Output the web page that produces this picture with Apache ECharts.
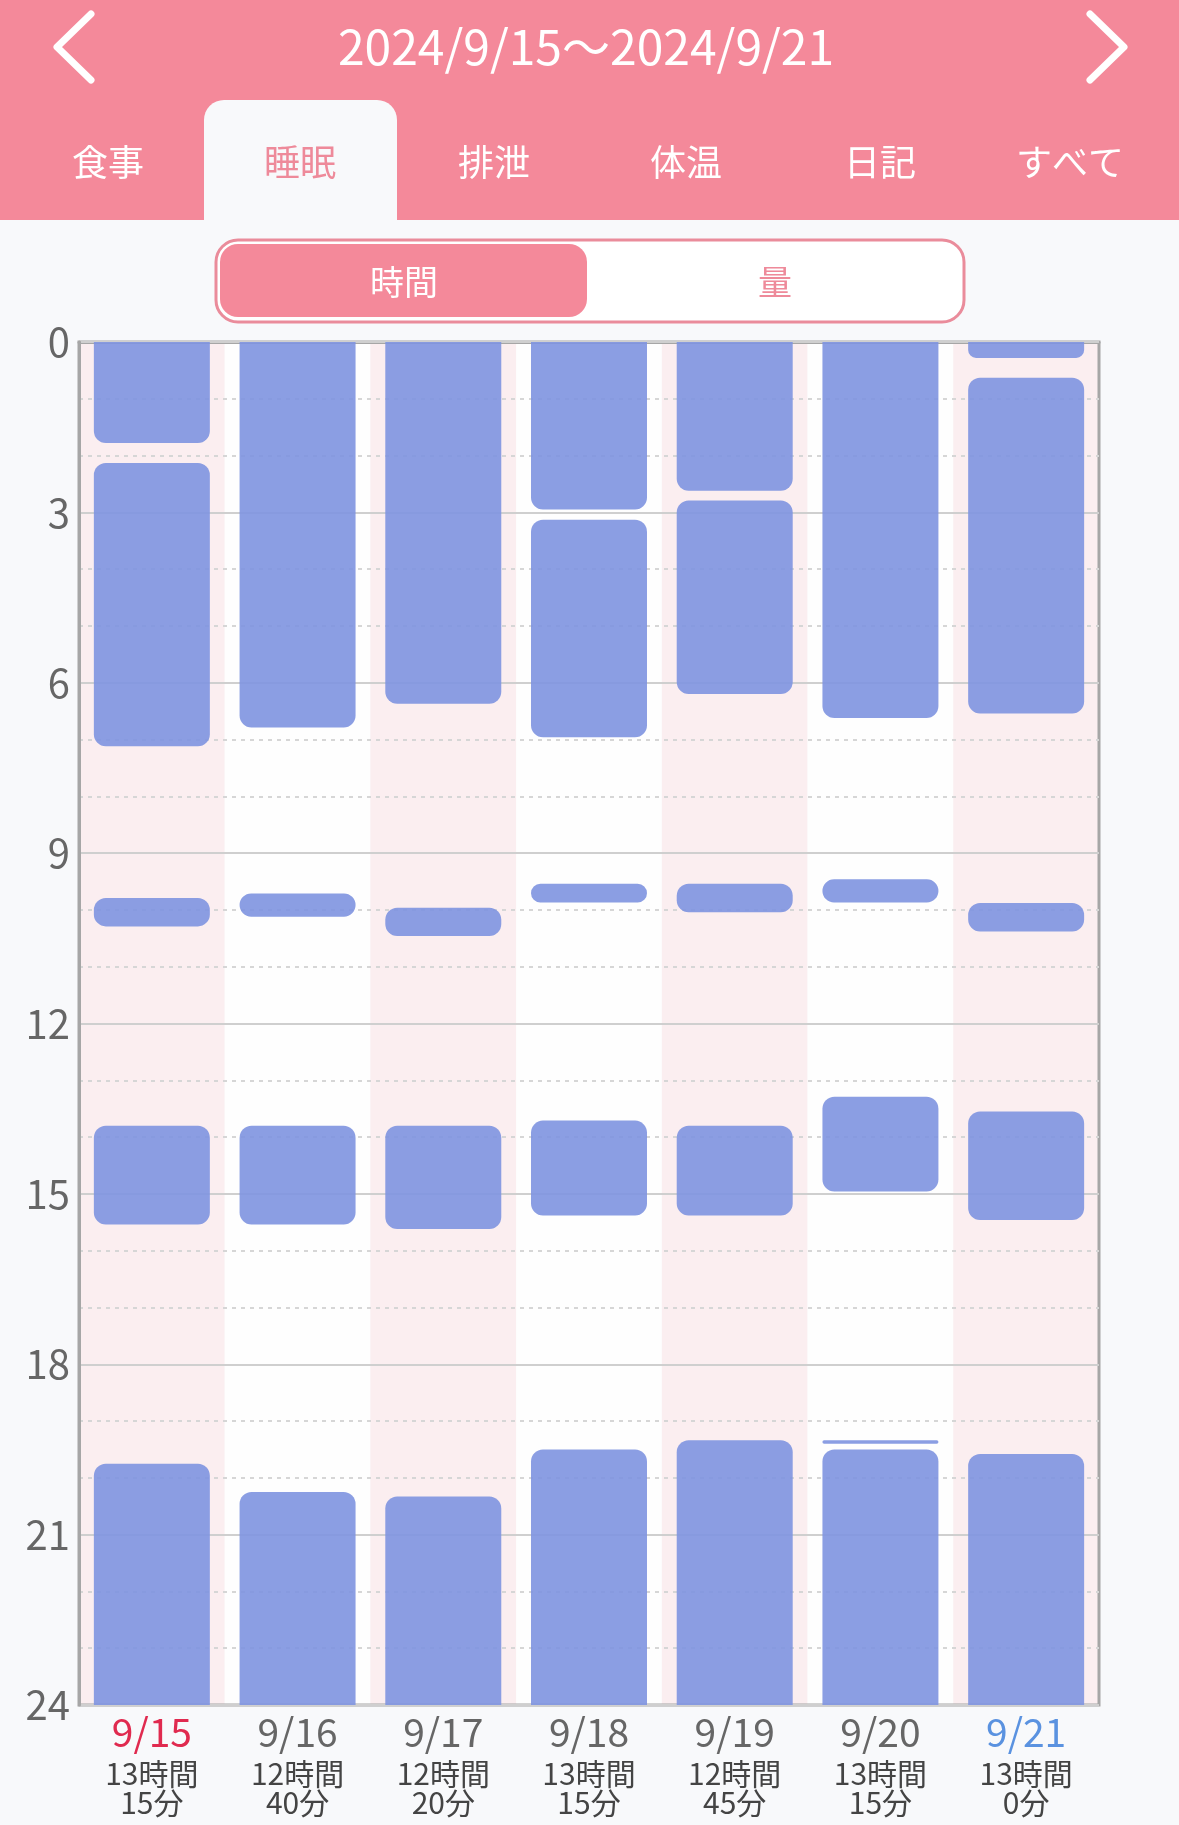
<!DOCTYPE html>
<html>
<head>
<meta charset="utf-8">
<script src="https://cdn.jsdelivr.net/npm/echarts@6.0.0/dist/echarts.min.js"></script>
<style>
html,body{margin:0;padding:0;background:#f8f9fb;}
#chart{width:1179px;height:1825px;}
</style>
</head>
<body>
<div id="chart"></div>
<script>
// ---- data ----
const dates = ['9/15', '9/16', '9/17', '9/18', '9/19', '9/20', '9/21'];
const totalHours = ['13時間', '12時間', '12時間', '13時間', '12時間', '13時間', '13時間'];
const totalMinutes = ['15分', '40分', '20分', '15分', '45分', '15分', '0分'];
const yTicks = [0, 3, 6, 9, 12, 15, 18, 21, 24];
// sleep sessions per day: [start hour, end hour]
const sleep0915 = [[0, 1.78], [2.13, 7.12], [9.79, 10.29], [13.80, 15.54], [19.75, 24]];
const sleep0916 = [[0, 6.79], [9.71, 10.12], [13.80, 15.54], [20.25, 24]];
const sleep0917 = [[0, 6.37], [9.96, 10.46], [13.80, 15.62], [20.33, 24]];
const sleep0918 = [[0, 2.95], [3.13, 6.96], [9.54, 9.87], [13.71, 15.38], [19.50, 24]];
const sleep0919 = [[0, 2.62], [2.79, 6.20], [9.54, 10.04], [13.80, 15.38], [19.34, 24]];
const sleep0920 = [[0, 6.62], [9.46, 9.87], [13.29, 14.96], [19.34, 19.40], [19.50, 24]];
const sleep0921 = [[0, 0.28], [0.63, 6.54], [9.88, 10.38], [13.55, 15.46], [19.58, 24]];
const tabs = ['食事', '睡眠', '排泄', '体温', '日記', 'すべて'];
const titleText = '2024/9/15～2024/9/21';
const toggleLabels = ['時間', '量'];

// ---- build ----
const days = [sleep0915, sleep0916, sleep0917, sleep0918, sleep0919, sleep0920, sleep0921];
const segData = [];
days.forEach((d, i) => d.forEach(s => segData.push([i, s[0], s[1]])));

const FONT = '"Noto Sans CJK JP", "Noto Sans", sans-serif';
const PINK = '#f4899a';
const BG = '#f8f9fb';

const tabCenters = [108, 300, 494, 686, 880, 1070];
const graphics = [
  { type: 'rect', shape: { x: 0, y: 0, width: 1179, height: 220 }, style: { fill: PINK }, silent: true },
  { type: 'rect', shape: { x: 204, y: 100, width: 193, height: 122, r: [20, 20, 0, 0] }, style: { fill: BG }, silent: true },
  { type: 'text', x: 586, y: 47, style: { text: titleText, fill: '#fff', font: '48px ' + FONT, textAlign: 'center', textVerticalAlign: 'middle' } },
  { type: 'polyline', shape: { points: [[91, 14], [57, 47], [91, 80]] }, style: { stroke: '#fff', lineWidth: 7, lineCap: 'round', lineJoin: 'round', fill: null } },
  { type: 'polyline', shape: { points: [[1090, 14], [1124, 47], [1090, 80]] }, style: { stroke: '#fff', lineWidth: 7, lineCap: 'round', lineJoin: 'round', fill: null } },
  { type: 'rect', shape: { x: 216, y: 240, width: 748, height: 82, r: 22 }, style: { fill: '#fff', stroke: '#ea8c9b', lineWidth: 3 } },
  { type: 'rect', shape: { x: 220, y: 244, width: 367, height: 73, r: 18 }, style: { fill: PINK } },
  { type: 'text', x: 404, y: 282, style: { text: toggleLabels[0], fill: '#fff', font: '34px ' + FONT, textAlign: 'center', textVerticalAlign: 'middle' } },
  { type: 'text', x: 775, y: 282, style: { text: toggleLabels[1], fill: '#ee8a9a', font: '34px ' + FONT, textAlign: 'center', textVerticalAlign: 'middle' } }
];
tabs.forEach((t, i) => {
  graphics.push({ type: 'text', x: tabCenters[i], y: 162, style: { text: t, fill: i === 1 ? '#ee8a9a' : '#fff', font: '36px ' + FONT, textAlign: 'center', textVerticalAlign: 'middle' } });
});

const chart = echarts.init(document.getElementById('chart'), null, { renderer: 'canvas' });
chart.setOption({
  backgroundColor: BG,
  animation: false,
  textStyle: { fontFamily: FONT },
  graphic: graphics,
  grid: { left: 79, right: 80, top: 342, bottom: 120, show: true, borderColor: '#a6a6a6', borderWidth: 3, backgroundColor: 'transparent', z: 1 },
  xAxis: {
    type: 'category',
    data: dates,
    z: 0,
    axisLine: { show: true, lineStyle: { color: '#a6a6a6', width: 3 } },
    axisTick: { show: false },
    splitArea: { show: true, areaStyle: { color: ['#fbeef0', '#fefefe'] } },
    axisLabel: {
      margin: 0,
      interval: 0,
      formatter: (v, i) => {
        const key = i === 0 ? 'dr' : (i === dates.length - 1 ? 'db' : 'd');
        return '{' + key + '|' + v + '}\n{s|' + totalHours[i] + '}\n{s|' + totalMinutes[i] + '}';
      },
      rich: {
        d: { fontSize: 39, color: '#666', lineHeight: 54, fontFamily: FONT },
        dr: { fontSize: 39, color: '#e02a4f', lineHeight: 54, fontFamily: FONT },
        db: { fontSize: 39, color: '#5a92e0', lineHeight: 54, fontFamily: FONT },
        s: { fontSize: 30, color: '#444', lineHeight: 29, fontFamily: FONT }
      }
    }
  },
  yAxis: {
    type: 'value',
    min: 0,
    max: 24,
    interval: 3,
    inverse: true,
    z: 1,
    axisLine: { show: true, lineStyle: { color: '#a6a6a6', width: 3 } },
    axisTick: { show: false },
    axisLabel: { fontSize: 40, color: '#666', margin: 9, fontFamily: FONT,
      formatter: v => (yTicks.indexOf(v) >= 0 ? String(v) : '') },
    splitLine: { show: true, lineStyle: { color: '#cfcfcf', width: 2 } },
    minorTick: { show: false, splitNumber: 3 },
    minorSplitLine: { show: true, lineStyle: { color: '#d6d6d6', width: 2, type: [4, 5] } }
  },
  series: [{
    type: 'custom',
    clip: true,
    z: 2,
    data: segData,
    encode: { x: 0, y: [1, 2] },
    renderItem: (params, api) => {
      const xi = api.value(0), s = api.value(1), e = api.value(2);
      const p1 = api.coord([xi, s]);
      const p2 = api.coord([xi, e]);
      const w = api.size([1, 0])[0] * 0.796;
      const h = p2[1] - p1[1];
      const rr = Math.min(12, h / 2);
      const rt = s <= 0 ? 0 : rr;
      const rb = e >= 24 ? 0 : rr;
      return {
        type: 'rect',
        shape: { x: p1[0] - w / 2, y: p1[1], width: w, height: h, r: [rt, rt, rb, rb] },
        style: { fill: 'rgba(126,148,224,0.9)' }
      };
    }
  }]
});
</script>
</body>
</html>
